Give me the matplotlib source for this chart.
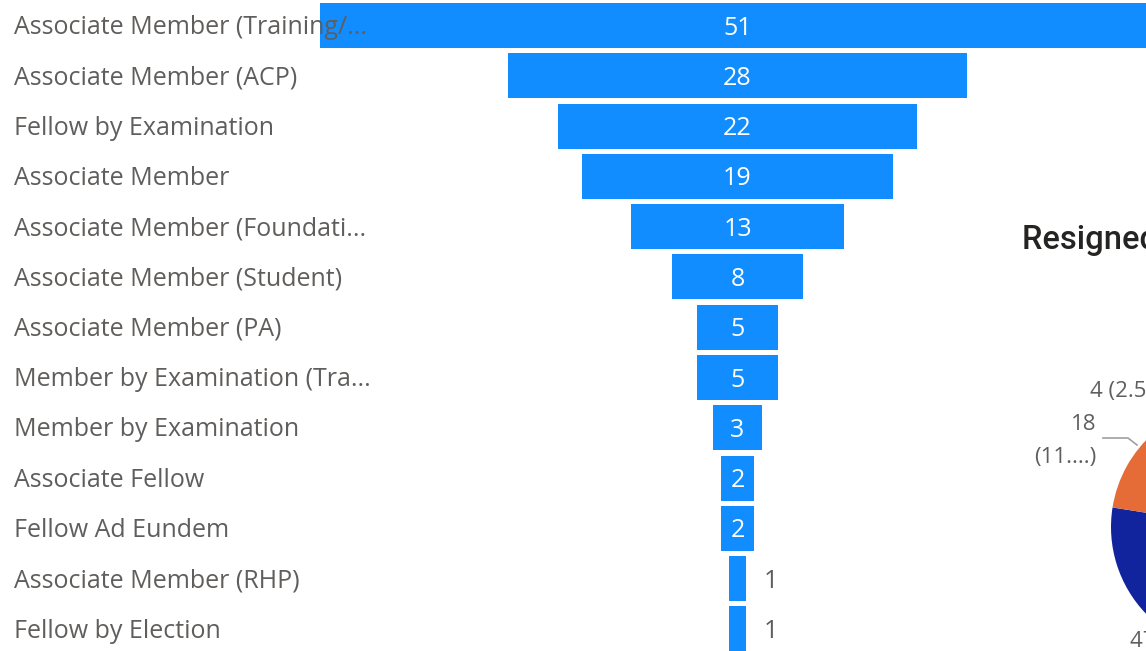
import numpy as np
import matplotlib.pyplot as plt

# funnel data
categories = [
    "Associate Member (Training/...",
    "Associate Member (ACP)",
    "Fellow by Examination",
    "Associate Member",
    "Associate Member (Foundati...",
    "Associate Member (Student)",
    "Associate Member (PA)",
    "Member by Examination (Tra...",
    "Member by Examination",
    "Associate Fellow",
    "Fellow Ad Eundem",
    "Associate Member (RHP)",
    "Fellow by Election",
]
counts = [51, 28, 22, 19, 13, 8, 5, 5, 3, 2, 2, 1, 1]

# pie data (only the left part is visible)
pie_values = [77, 47, 18, 4, 14]
pie_colors = ["#118DFF", "#12239E", "#E66C37", "#6B007B", "#E044A7"]
pie_title = "Resigned Members by Grade"

W, H = 1146, 651
fig = plt.figure(figsize=(W / 100, H / 100), dpi=100)
plt.rcParams['font.family'] = ['Open Sans', 'DejaVu Sans']

# funnel
# ---
px_per_unit = 16.36
cx = 737.5
pitch = 50.3
ax = fig.add_axes([0, 0, 1, 1])
ax.set_xlim(-cx / px_per_unit, (W - cx) / px_per_unit)
ax.set_ylim(12 + (H - 629) / pitch, -25.5 / pitch)
ax.axis("off")

y = np.arange(len(counts))
vals = np.array(counts, dtype=float)
ax.barh(y, vals, left=-vals / 2, height=0.895, color="#118DFF", zorder=1)

x_lab = ax.get_xlim()[0] + 14 / px_per_unit
for i, (c, v) in enumerate(zip(categories, counts)):
    ax.text(x_lab, i + 0.04, c, ha="left", va="center", fontsize=18,
            color="#605E5C", zorder=3)
    if v >= 2:
        ax.text(0, i + 0.05, str(v), ha="center", va="center",
                fontsize=18, color="white", zorder=3)
    else:
        ax.text(v / 2 + 1.1, i + 0.05, str(v), ha="left", va="center",
                fontsize=18, color="#605E5C", zorder=3)

# pie (cut by the right edge)
# ---
pcx, pcy, r = 1236, 527, 125
pax = fig.add_axes([(pcx - r) / W, (H - pcy - r) / H, 2 * r / W, 2 * r / H])
pax.pie(pie_values, colors=pie_colors, startangle=90, counterclock=False,
        radius=1, wedgeprops=dict(linewidth=0))
pax.set_xlim(-1, 1)
pax.set_ylim(-1, 1)
pax.axis("off")

total = sum(pie_values)
fig.text(1022 / W, 1 - 240 / H, pie_title, fontsize=23.5, color="#252423",
         family=["Roboto", "DejaVu Sans"], fontweight="medium",
         ha="left", va="center")
fig.text(1090 / W, 1 - 392 / H,
         f"{pie_values[3]} ({pie_values[3] / total * 100:.1f}%)",
         fontsize=16, color="#605E5C", ha="left", va="center")
fig.text(1096 / W, 1 - 424 / H, f"{pie_values[2]}", fontsize=16,
         color="#605E5C", ha="right", va="center")
fig.text(1096 / W, 1 - 457 / H, "(11....)", fontsize=16,
         color="#605E5C", ha="right", va="center")
fig.text(1130 / W, 1 - 642 / H,
         f"{pie_values[1]} ({pie_values[1] / total * 100:.1f}%)",
         fontsize=16, color="#605E5C", ha="left", va="center")
fig.add_artist(plt.Line2D([1103 / W, 1128 / W, 1137 / W],
                          [1 - 438 / H, 1 - 438 / H, 1 - 445 / H],
                          color="#A0A0A0", linewidth=1.2))

fig.savefig("out.png", dpi=100)
